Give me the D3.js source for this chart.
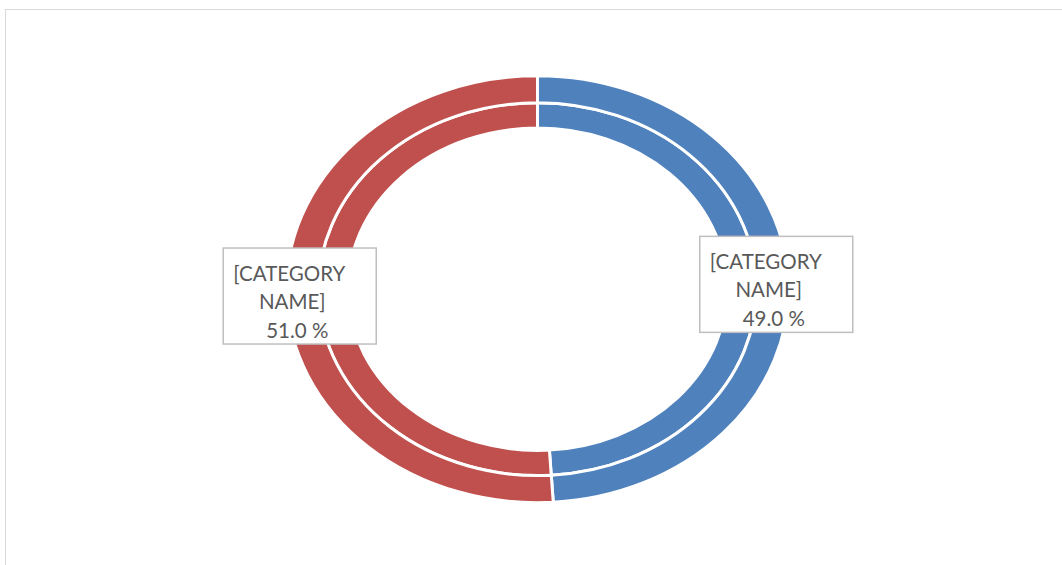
<!DOCTYPE html>
<html>
<head>
<meta charset="utf-8">
<script src="https://cdn.jsdelivr.net/npm/d3@7"></script>
<style>
  body { margin: 0; background: #fff; }
  svg { display: block; }
</style>
</head>
<body>
<div id="chart"></div>
<script>
// Chart data
var categories = ["[CATEGORY NAME]", "[CATEGORY NAME]"];
var innerValues = [49, 51];
var outerValues = [49, 51];
var colors = ["#4F81BD", "#C0504D"];

var width = 1062,
    height = 565;

// ellipse centre and radii
var cx = 537.5, cy = 289.2,
    rx = 251, ry = 213.5;

var svg = d3.select("#chart")
    .append("svg")
        .attr("width", width)
        .attr("height", height);

// chart area border
svg.append("rect")
    .attr("x", 5.5)
    .attr("y", 9.5)
    .attr("width", 1100)
    .attr("height", 600)
    .style("fill", "none")
    .style("stroke", "#d9d9d9")
    .style("stroke-width", 1);

var pie = d3.pie().sort(null).value(function(d) { return d; });

// rings are drawn as circles and squashed into an ellipse
var g = svg.append("g")
    .attr("transform", "translate(" + cx + "," + cy + ") scale(1," + (ry / rx) + ")");

var innerArc = d3.arc().innerRadius(rx * 0.755).outerRadius(rx * 0.873);
var outerArc = d3.arc().innerRadius(rx * 0.873).outerRadius(rx);

g.selectAll(".inner")
    .data(pie(innerValues))
    .enter().append("path")
    .attr("class", "inner")
    .attr("d", innerArc)
    .attr("vector-effect", "non-scaling-stroke")
    .style("fill", function(d, i) { return colors[i]; })
    .style("stroke", "#fff")
    .style("stroke-width", 3);

g.selectAll(".outer")
    .data(pie(outerValues))
    .enter().append("path")
    .attr("class", "outer")
    .attr("d", outerArc)
    .attr("vector-effect", "non-scaling-stroke")
    .style("fill", function(d, i) { return colors[i]; })
    .style("stroke", "#fff")
    .style("stroke-width", 3);

// data labels
var total = d3.sum(outerValues);
var boxW = 153, boxH = 96;

pie(outerValues).forEach(function(d, i) {
    var mid = (d.startAngle + d.endAngle) / 2;
    var px = cx + rx * 0.87 * Math.sin(mid),
        py = cy - ry * 0.87 * Math.cos(mid);
    var side = Math.sin(mid) > 0 ? 1 : -1;
    var bx = px + side * 20,
        by = py + 0.5;

    var lg = svg.append("g")
        .attr("transform", "translate(" + bx + "," + by + ")");

    lg.append("rect")
        .attr("x", -boxW / 2 + 0.5)
        .attr("y", -boxH / 2 + 0.5)
        .attr("width", boxW)
        .attr("height", boxH)
        .style("fill", "#fff")
        .style("stroke", "#bfbfbf")
        .style("stroke-width", 1.5);

    var words = categories[i].split(" ");
    var lines = [words[0], words[1], (d.data / total * 100).toFixed(1) + " %"];
    var offs = [-10, -7, -2];

    lg.selectAll("text")
        .data(lines)
        .enter().append("text")
        .attr("x", function(t, j) { return offs[j]; })
        .attr("y", function(t, j) { return -15 + j * 28.5; })
        .attr("text-anchor", "middle")
        .style("font-family", "Lato, 'Open Sans', sans-serif")
        .style("font-size", "20.5px")
        .style("fill", "#595959")
        .text(function(t) { return t; });
});
</script>
</body>
</html>
